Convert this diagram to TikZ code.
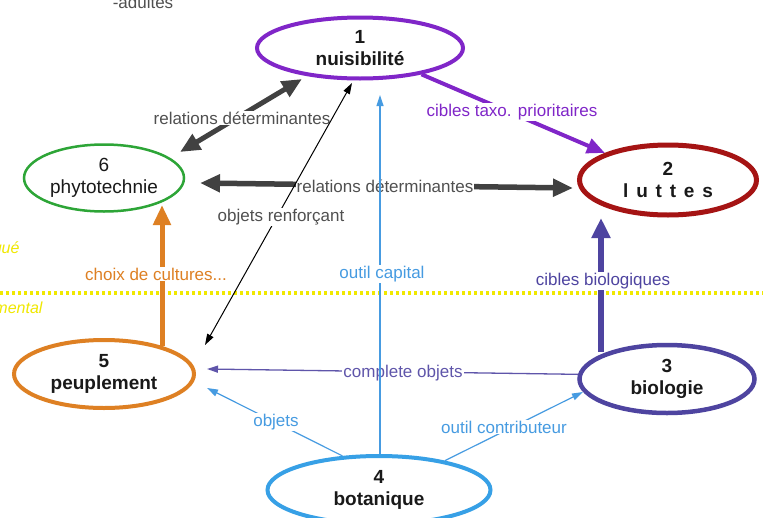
\documentclass[tikz,border=0pt]{standalone}
\usepackage{fontspec}
\setmainfont{Liberation Sans}
\usetikzlibrary{arrows.meta,shapes.geometric}
\definecolor{cpurple}{RGB}{128,38,200}
\definecolor{cred}{RGB}{165,20,20}
\definecolor{cgreen}{RGB}{45,165,55}
\definecolor{corange}{RGB}{222,128,35}
\definecolor{cbio}{RGB}{78,68,160}
\definecolor{cbot}{RGB}{55,160,230}
\definecolor{cgray}{RGB}{65,65,65}
\definecolor{ctext}{RGB}{80,80,80}
\definecolor{clblue}{RGB}{70,155,225}
\definecolor{cyel}{RGB}{240,232,0}
\definecolor{ccomp}{RGB}{95,85,170}
\begin{document}
\begin{tikzpicture}[x=1pt,y=-1pt,
  ell/.style={ellipse, draw, inner sep=0pt, align=center, text=black!90,
    font=\fontsize{19}{22}\selectfont\bfseries},
  lbl/.style={fill=white, inner sep=1pt, font=\fontsize{17}{20}\selectfont},
  bigtips/.style={{Triangle[length=20pt,width=17pt]}-{Triangle[length=20pt,width=17pt]}},
  thintip/.style={-{Triangle[length=11pt,width=7pt]}},
  thintips/.style={{Triangle[length=11pt,width=7pt]}-{Triangle[length=11pt,width=7pt]}},
  side/.style={font=\fontsize{16}{18}\selectfont\itshape, text=cyel}]
\useasboundingbox (0,0) rectangle (763,517);
\fill[white] (0,0) rectangle (763,517);

% background marks
\draw[cyel, line width=4pt, dash pattern=on 3.3pt off 2.7pt] (0,293) -- (763,293);
\node[side, anchor=base east] (tq) at (23,253) {gué};
\node[side, anchor=base east] (tm) at (46,313) {mental};
\node[font=\fontsize{17}{20}\selectfont, text=ctext, anchor=base] (ad) at (143,8) {-adultes};

% main nodes
\node[ell, draw=cpurple, line width=4pt, minimum width=206pt, minimum height=61pt] (n1) at (360,48) {1\\nuisibilité};
\node[ell, draw=cred, line width=5pt, minimum width=177pt, minimum height=70pt] (n2) at (668,180)
  {2\\l\kern.41em u\kern.41em t\kern.41em t\kern.41em e\kern.41em s};
\node[ell, draw=cbio, line width=4.5pt, minimum width=175pt, minimum height=68pt] (n3) at (667,379) {3\\biologie};
\node[ell, draw=cbot, line width=4pt, minimum width=223pt, minimum height=68pt] (n4) at (379,490) {4\\botanique};
\node[ell, draw=corange, line width=4pt, minimum width=180pt, minimum height=68pt] (n5) at (104,374) {5\\peuplement};
\node[ell, draw=cgreen, line width=2.5pt, minimum width=160pt, minimum height=67pt,
  font=\fontsize{19}{22}\selectfont] (n6) at (104,178) {6\\phytotechnie};

% free ends
\coordinate (g61a) at (180,152);
\coordinate (g61b) at (302,79);
\coordinate (g62a) at (200,183);
\coordinate (g62b) at (573,188);
\coordinate (o6) at (162,205);
\coordinate (b2) at (601,218);
\coordinate (c5) at (207,369);
\coordinate (o5) at (207,388);
\coordinate (t3) at (583,392);
\coordinate (b1) at (380,95);
\coordinate (k5) at (205,345);
\coordinate (k1) at (352,83);

% 1 -> 2
\draw[cpurple, line width=4pt, -{Triangle[length=18pt,width=15pt]}] (n1) -- (n2);
\node[lbl, text=cpurple] (l12) at (512,112) {cibles taxo. prioritaires};

% 6 <-> 1
\draw[cgray, line width=5pt, bigtips] (g61a) -- (g61b);
\node[lbl, text=ctext] (l61) at (242,118) {relations déterminantes};

% 6 <-> 2
\draw[cgray, line width=5.5pt, bigtips] (g62a) -- (g62b);
\node[lbl, text=ctext] (l62) at (385,186) {relations déterminantes};

% 5 -> 6
\draw[corange, line width=5pt, -{Triangle[length=20pt,width=17pt]}] (n5.25 -| o6) -- (o6);
\node[lbl, text=corange] (l56) at (156,274) {choix de cultures...};

% 3 -> 2
\draw[cbio, line width=6pt, -{Triangle[length=20pt,width=18pt]}] (n3.156 -| b2) -- (b2);
\node[lbl, text=cbio] (l32) at (603,281) {cibles biologiques};

% 3 -> 5
\draw[ccomp, line width=1.3pt, thintip] (n3.177) -- (c5);
\node[lbl, text=ccomp] (l35) at (403,373) {complete objets};

% 4 -> 5, 4 -> 3
\draw[clblue, line width=1.2pt, thintip] (n4.137) -- (o5);
\node[lbl, text=clblue] (l45) at (276,422) {objets};
\draw[clblue, line width=1.2pt, thintip] (n4.24) -- (t3);
\node[lbl, text=clblue] (l43) at (504,427) {outil contributeur};

% 4 -> 1
\draw[clblue, line width=1.2pt, thintip] (n4.north -| b1) -- (b1);
\node[lbl, text=clblue] (l41) at (382,274) {outil capital};

% 5 <-> 1
\draw[black, line width=1pt, thintips] (k5) -- (k1);
\node[lbl, text=ctext] (l51) at (281,217) {objets renforçant};
\end{tikzpicture}
\end{document}
